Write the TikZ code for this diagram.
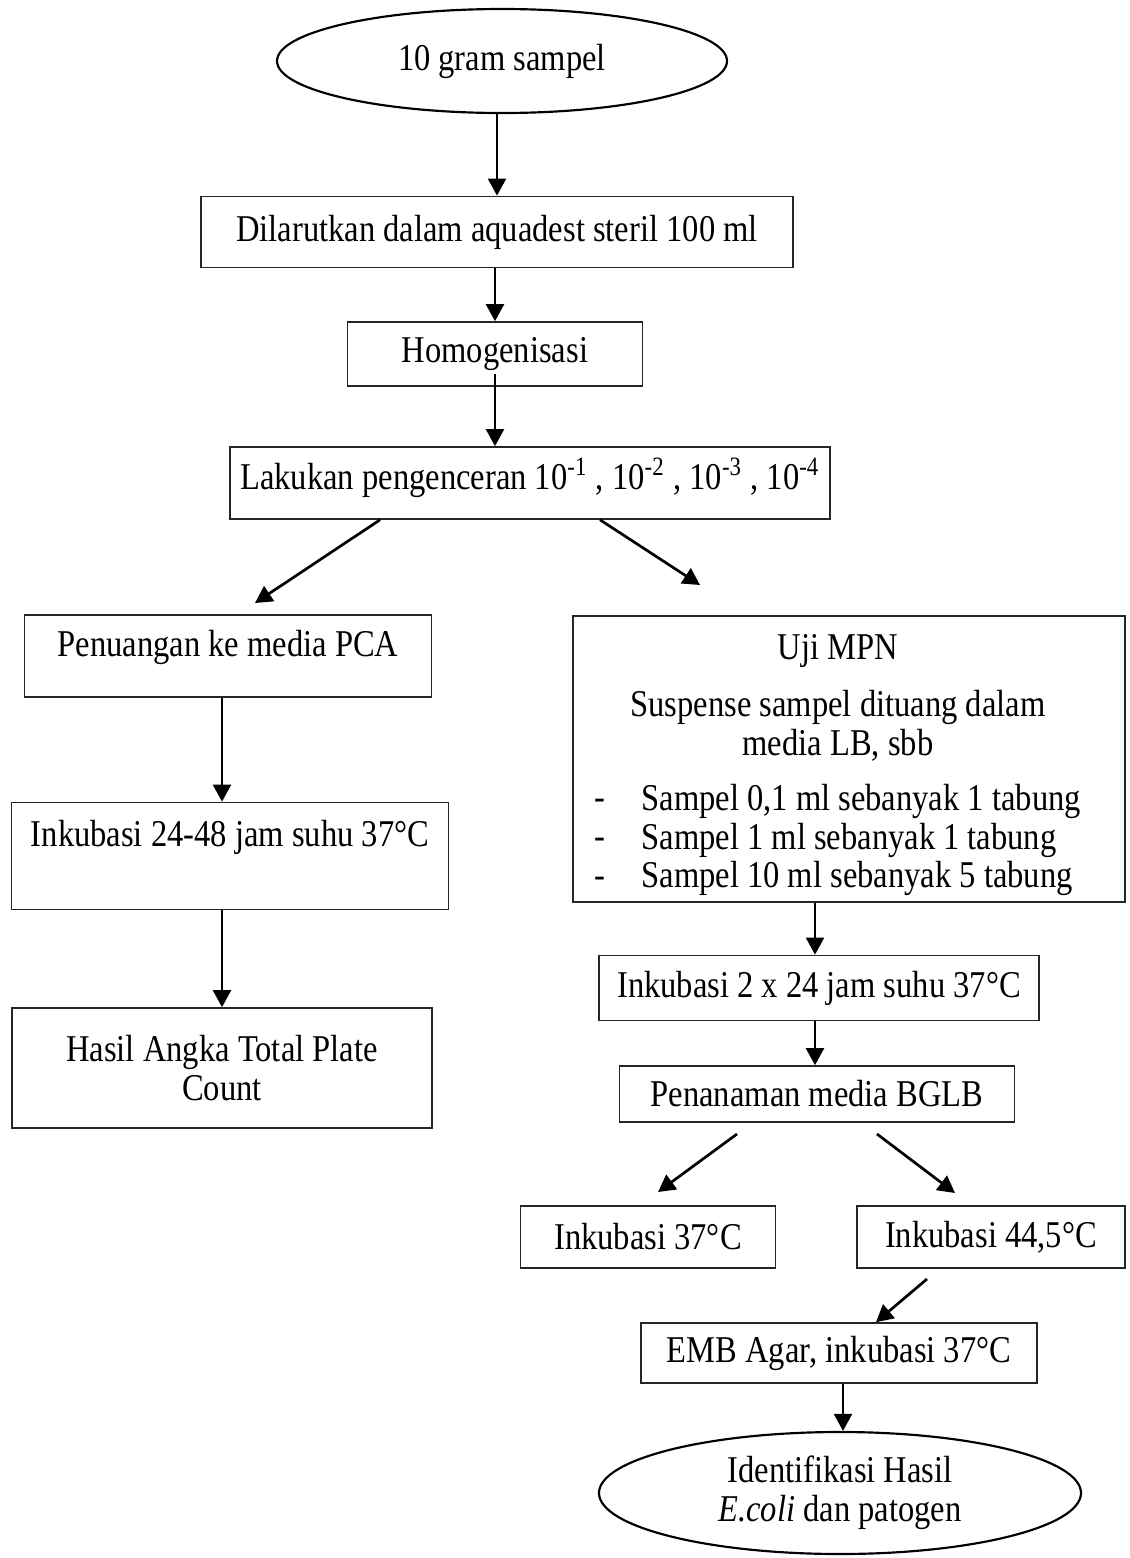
\documentclass[tikz,border=0pt]{standalone}
\usepackage{fontspec}
\setmainfont{Liberation Serif}[FakeStretch=0.86]
\usetikzlibrary{shapes.geometric,arrows.meta}

% one pixel of the layout
\newcommand{\pxs}{0.37pt}
\newcommand{\flowfont}{\fontsize{14}{14.4}\selectfont}

\tikzset{
  box/.style={draw=black!85, line width=0.6pt, align=center, inner sep=0pt, font=\flowfont},
  oval/.style={ellipse, draw, line width=0.8pt, align=center, inner sep=0pt, font=\flowfont},
  txt/.style={inner sep=0pt, font=\flowfont},
  arr/.style={line width=1pt, -{Triangle[length=6.3pt,width=6.6pt]}},
}

\begin{document}
\begin{tikzpicture}[x=0.37pt,y=0.37pt,yscale=-1]
        \useasboundingbox (0,0) rectangle (1130,1558);

        %Shape: Ellipse [start]
        \draw (502,61) node [oval, minimum width=450*\pxs, minimum height=104*\pxs] (sampel) {10 gram sampel};
        %Shape: Rectangle
        \draw (497,232) node [box, minimum width=592*\pxs, minimum height=71*\pxs] (larut) {Dilarutkan dalam aquadest steril 100 ml};
        %Shape: Rectangle
        \draw (495,354) node [box, minimum width=295*\pxs, minimum height=64*\pxs] (homog) {Homogenisasi};
        %Shape: Rectangle
        \draw (530,483) node [box, minimum width=600*\pxs, minimum height=72*\pxs, text depth=7pt] (encer) {Lakukan pengenceran 10\textsuperscript{-1} , 10\textsuperscript{-2} , 10\textsuperscript{-3} , 10\textsuperscript{-4}};

        % left branch
        %Shape: Rectangle
        \draw (228,656) node [box, minimum width=407*\pxs, minimum height=82*\pxs, text depth=9pt] (pca) {Penuangan ke media PCA};
        %Shape: Rectangle
        \draw (230,856) node [box, minimum width=437*\pxs, minimum height=107*\pxs] (inkA) {Inkubasi 24-48 jam suhu 37°C\\[2pt]~};
        %Shape: Rectangle
        \draw (222,1068) node [box, minimum width=420*\pxs, minimum height=120*\pxs] (hasil) {Hasil Angka Total Plate\\Count};

        % right branch
        %Shape: Rectangle
        \draw (849,759) node [box, minimum width=552*\pxs, minimum height=286*\pxs] (mpn) {};
        % Text Node
        \draw (838,651) node [txt] (mpnJudul) {Uji MPN};
        % Text Node
        \draw (838,726) node [txt, align=center] (mpnSusp) {Suspense sampel dituang dalam\\media LB, sbb};
        % Text Node
        \draw (594,843) node [txt, anchor=west, align=left] (mpnDash) {-\\-\\-};
        % Text Node
        \draw (641,840) node [txt, anchor=west, align=left] (mpnList) {Sampel 0,1 ml sebanyak 1 tabung\\Sampel 1 ml sebanyak 1 tabung\\Sampel 10 ml sebanyak 5 tabung};
        %Shape: Rectangle
        \draw (819,988) node [box, minimum width=440*\pxs, minimum height=65*\pxs] (inkB) {Inkubasi 2 x 24 jam suhu 37°C};
        %Shape: Rectangle
        \draw (817,1094) node [box, minimum width=395*\pxs, minimum height=56*\pxs] (bglb) {Penanaman media BGLB};
        %Shape: Rectangle
        \draw (648,1237) node [box, minimum width=255*\pxs, minimum height=62*\pxs] (inkC) {Inkubasi 37°C};
        %Shape: Rectangle
        \draw (991,1237) node [box, minimum width=268*\pxs, minimum height=62*\pxs] (inkD) {Inkubasi 44,5°C};
        %Shape: Rectangle
        \draw (839,1353) node [box, minimum width=396*\pxs, minimum height=60*\pxs] (emb) {EMB Agar, inkubasi 37°C};
        %Shape: Ellipse [end]
        \draw (840,1493) node [oval, minimum width=482*\pxs, minimum height=122*\pxs] (ident) {Identifikasi Hasil\\\textit{E.coli} dan patogen};

        % free ends of the slanted arrows
        \coordinate (spine) at (815,0);
        \coordinate (tipPca) at (255,603);
        \coordinate (tipMpn) at (700,585);
        \coordinate (bglbL) at (737,1134);
        \coordinate (tipC) at (658,1192);
        \coordinate (bglbR) at (877,1134);
        \coordinate (tipD) at (955,1193);
        \coordinate (fromD) at (927,1279);

        %Straight Lines
        \draw [arr] (larut.north |- sampel.south) -- (larut.north);
        \draw [arr] (homog.north |- larut.south) -- (homog.north);
        \draw [arr] ([yshift=-13*\pxs]homog.south) -- (homog.south |- encer.north);
        \draw [arr] ([xshift=-150*\pxs]encer.south) -- (tipPca);
        \draw [arr] ([xshift=70*\pxs]encer.south) -- (tipMpn);
        \draw [arr] (pca.south -| hasil.north) -- (inkA.north -| hasil.north);
        \draw [arr] (inkA.south -| hasil.north) -- (hasil.north);
        \draw [arr] (mpn.south -| spine) -- (inkB.north -| spine);
        \draw [arr] (inkB.south -| spine) -- (bglb.north -| spine);
        \draw [arr] (bglbL) -- (tipC);
        \draw [arr] (bglbR) -- (tipD);
        \draw [arr] (fromD) -- ([xshift=37*\pxs]emb.north);
        \draw [arr] ([xshift=4*\pxs]emb.south) -- ([xshift=4*\pxs]emb.south |- ident.north);

\end{tikzpicture}
\end{document}
